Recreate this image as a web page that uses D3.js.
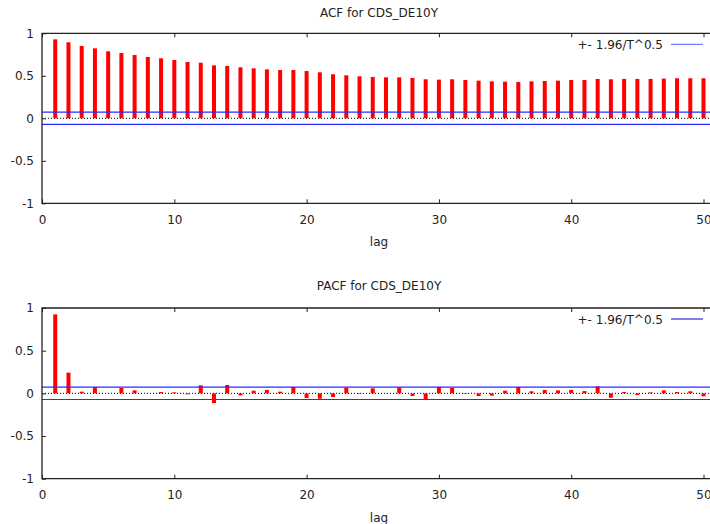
<!DOCTYPE html>
<html>
<head>
<meta charset="utf-8">
<script src="https://cdn.jsdelivr.net/npm/d3@7"></script>
<style>
    body { margin: 0; background: #fff; }
    svg { display: block; }
    text { font-family: "DejaVu Sans", Verdana, sans-serif; font-size: 12px; fill: #222; }
</style>
</head>
<body>
<svg id="chart" width="710" height="524"></svg>
<script>
// lag index 1..50
const lags = d3.range(1, 51);

// autocorrelation
const acfValues = [
    0.929, 0.894, 0.851, 0.823, 0.788, 0.768, 0.745, 0.721, 0.706, 0.686,
    0.662, 0.654, 0.623, 0.615, 0.600, 0.588, 0.576, 0.568, 0.568, 0.556,
    0.541, 0.518, 0.506, 0.494, 0.486, 0.482, 0.482, 0.475, 0.459, 0.455,
    0.459, 0.451, 0.443, 0.435, 0.431, 0.427, 0.435, 0.439, 0.443, 0.451,
    0.451, 0.463, 0.459, 0.463, 0.463, 0.463, 0.467, 0.471, 0.471, 0.471
];

// partial autocorrelation
const pacfValues = [
    0.925, 0.243, 0.020, 0.074, 0.000, 0.063, 0.035, 0.000, 0.016, 0.012,
    -0.012, 0.094, -0.114, 0.098, -0.024, 0.031, 0.040, 0.020, 0.075, -0.055,
    -0.063, -0.043, 0.067, -0.008, 0.059, 0.002, 0.070, -0.031, -0.070, 0.075,
    0.063, -0.008, -0.031, -0.027, 0.031, 0.075, 0.024, 0.040, 0.035, 0.040,
    0.027, 0.082, -0.051, 0.016, -0.020, 0.012, 0.035, 0.016, 0.024, -0.035
];

const xTicks = [0, 10, 20, 30, 40, 50];
const yTicks = [-1, -0.5, 0, 0.5, 1];
const band = 0.072; // +- 1.96/T^0.5
const legendLabel = '+- 1.96/T^0.5';

const svg = d3.select('#chart');

// the plot frame runs past the right edge of the window
const x = d3.scaleLinear().domain([0, 50]).range([42, 703.5]);
const xRight = x(51);

function drawPanel(opts) {
    const y = d3.scaleLinear().domain([-1, 1]).range([opts.bottom, opts.top]);
    const g = svg.append('g');

    // zero line, dotted
    g.append('line')
        .attr('x1', x(0)).attr('x2', xRight)
        .attr('y1', y(0)).attr('y2', y(0))
        .attr('stroke', '#000')
        .attr('stroke-width', 1)
        .attr('stroke-dasharray', '1,2');

    // bars
    g.append('g')
        .selectAll('rect')
        .data(opts.values)
        .enter().append('rect')
        .attr('x', (d, i) => x(lags[i]) - 2)
        .attr('width', 4)
        .attr('y', d => y(Math.max(0, d)))
        .attr('height', d => Math.abs(y(d) - y(0)))
        .attr('fill', '#ff0000');

    // confidence band
    [band, -band].forEach(v => {
        g.append('line')
            .attr('x1', x(0)).attr('x2', xRight)
            .attr('y1', y(v)).attr('y2', y(v))
            .attr('stroke', '#2b2bff')
            .attr('stroke-width', 1.2);
    });

    // axes: inward ticks, plain hyphen for negatives
    const fmt = d => String(d);
    const bottomAxis = d3.axisBottom(x).tickValues(xTicks).tickSizeInner(-4).tickSizeOuter(0).tickPadding(12).tickFormat(fmt);
    const topAxis = d3.axisTop(x).tickValues(xTicks).tickSizeInner(-4).tickSizeOuter(0).tickFormat('');
    const leftAxis = d3.axisLeft(y).tickValues(yTicks).tickSizeInner(-4).tickSizeOuter(0).tickPadding(8).tickFormat(fmt);

    const gb = g.append('g').attr('transform', `translate(0,${opts.bottom})`).call(bottomAxis);
    const gt = g.append('g').attr('transform', `translate(0,${opts.top})`).call(topAxis);
    const gl = g.append('g').attr('transform', `translate(${x(0)},0)`).call(leftAxis);

    [gb, gt, gl].forEach(a => {
        a.select('.domain').remove();
        a.selectAll('line').attr('stroke', '#222');
        a.selectAll('text').style('font-family', '"DejaVu Sans", Verdana, sans-serif').style('font-size', '12px').attr('fill', '#222');
    });

    // frame
    g.append('path')
        .attr('d', `M${xRight},${opts.top}H${x(0)}V${opts.bottom}H${xRight}`)
        .attr('fill', 'none')
        .attr('stroke', '#222')
        .attr('stroke-width', 1.3);

    // title and axis label
    g.append('text')
        .attr('x', 379).attr('y', opts.titleY)
        .attr('text-anchor', 'middle')
        .text(opts.title);
    g.append('text')
        .attr('x', 379).attr('y', opts.bottom + 43)
        .attr('text-anchor', 'middle')
        .text('lag');

    // legend
    const ly = opts.top + 11;
    g.append('text')
        .attr('x', 663).attr('y', ly + 4.5)
        .attr('text-anchor', 'end')
        .text(legendLabel);
    g.append('line')
        .attr('x1', 671).attr('x2', 703)
        .attr('y1', ly).attr('y2', ly)
        .attr('stroke', opts.legendColor)
        .attr('stroke-width', 1);
}

drawPanel({ top: 33.3, bottom: 203.3, title: 'ACF for CDS_DE10Y', titleY: 16.5, values: acfValues, legendColor: '#5a5aff' });
drawPanel({ top: 308, bottom: 478.7, title: 'PACF for CDS_DE10Y', titleY: 289.5, values: pacfValues, legendColor: '#0000cc' });
</script>
</body>
</html>
